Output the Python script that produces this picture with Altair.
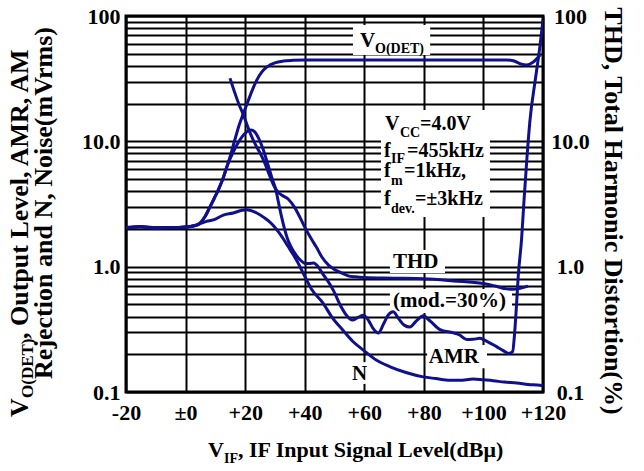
import altair as alt
import pandas as pd

FONT = "Liberation Serif"
NAVY = "#10108c"

# ---------------- data ----------------
vo_db = [-20, -15, -10, -5, 0, 3, 4.8, 6.5, 8.2, 9.6, 11, 12.5, 13.8, 15, 16.5, 18, 19.4, 21, 22.5,
         23.9, 25.5, 27, 28.4, 30, 32.8, 36, 40, 50, 60, 70, 80, 90, 100, 107.8, 110, 112.5, 114.5,
         116.5, 119]
vo_mv = [2.05, 2.08, 2.05, 2.05, 2.07, 2.12, 2.22, 2.5, 3.0, 3.5, 4.1, 5.0, 6.2, 7.6, 10.2, 13.5,
         16.7, 21, 26, 30.8, 35.5, 38.8, 40.7, 42.3, 43.7, 44.3, 44.6, 44.6, 44.6, 44.6, 44.6, 44.6,
         44.6, 44.6, 44, 41.5, 40.6, 42.5, 48.9]

amr_db = [-20, -15, -10, -5, 0, 3, 4.8, 6.5, 8.2, 9.6, 11, 12.5, 13.8, 15, 16.2, 17.5, 19, 20.5,
          22, 23.2, 24.5, 26, 27.5, 29, 30.3, 31.5, 33, 34.5, 36.5, 38.5, 40.3, 41.5, 43, 44.5, 46,
          48.5, 50, 52, 54, 56, 58, 59.7, 61.5, 63, 64.7, 66.5, 68, 69.7, 71.5, 73.5, 75.3, 77.5,
          79.8, 82, 85.4, 89.9, 92, 94.4, 96.5, 98.8, 101, 104.4, 106.5, 108.5, 109.8, 110.4, 111,
          111.7, 112.8, 113.6, 114.5, 115.6, 117.5, 119, 120]
amr_mv = [2.05, 2.08, 2.05, 2.05, 2.07, 2.12, 2.22, 2.5, 3.0, 3.5, 4.1, 5.0, 6.2, 7.3, 8.4, 9.6,
          10.9, 11.9, 12.3, 11.9, 10.6, 8.7, 6.7, 5.1, 4.1, 3.0, 2.1, 1.6, 1.3, 1.13, 1.06, 1.06,
          1.07, 1.0, 0.88, 0.72, 0.62, 0.49, 0.41, 0.375, 0.395, 0.41, 0.37, 0.32, 0.295, 0.35,
          0.41, 0.436, 0.385, 0.34, 0.33, 0.37, 0.405, 0.37, 0.315, 0.296, 0.285, 0.262, 0.263,
          0.268, 0.255, 0.23, 0.215, 0.203, 0.21, 0.28, 0.45, 0.85, 1.65, 3.3, 6.8, 14.5, 32, 58,
          93]

thd_db = [14.9, 16.5, 18, 19.4, 21, 22.5, 23.9, 25.2, 26.5, 28, 29.5, 31, 32.5, 34.5, 36.5, 38.5,
          40.1, 42, 44, 45.7, 48, 50, 52, 54.6, 57, 60, 70, 80, 90, 100, 104, 107.8, 110, 112, 115]
thd_pct = [31.9, 24.5, 19.5, 16.3, 12.8, 10.5, 9.0, 7.9, 6.8, 5.5, 4.5, 3.95, 3.7, 3.45, 3.0, 2.45,
           2.05, 1.7, 1.42, 1.2, 1.03, 0.95, 0.9, 0.845, 0.83, 0.82, 0.81, 0.80, 0.77, 0.735, 0.70,
           0.665, 0.66, 0.67, 0.70]

n_db = [-20, -15, -10, -5, 0, 3.7, 7, 9.3, 12.7, 16, 19, 20.5, 22, 23.9, 26.5, 28.9, 31.5, 34.5,
        37.5, 40.1, 42.3, 46.2, 49, 52.9, 56, 59.7, 64, 68.7, 74, 79.8, 84, 88.8, 92, 96.6, 100,
        103.3, 107, 111.2, 115, 119, 120]
n_mv = [2.03, 2.08, 2.03, 2.04, 2.07, 2.15, 2.3, 2.36, 2.58, 2.68, 2.82, 2.85, 2.8, 2.68, 2.45,
        2.2, 1.85, 1.44, 1.1, 0.83, 0.66, 0.51, 0.4, 0.31, 0.255, 0.216, 0.18, 0.159, 0.143, 0.132,
        0.128, 0.124, 0.124, 0.127, 0.125, 0.123, 0.12, 0.118, 0.115, 0.113, 0.112]

x_ticks = [-20, 0, 20, 40, 60, 80, 100, 120]
x_tick_labels = ["-20", "±0", "+20", "+40", "+60", "+80", "+100", "+120"]
y_major = [0.1, 1, 10, 100]
y_major_labels = ["0.1", "1.0", "10.0", "100"]
y_grid = [0.1, 0.2, 0.3, 0.4, 0.5, 0.6, 0.7, 0.8, 0.9,
          1, 2, 3, 4, 5, 6, 7, 8, 9,
          10, 20, 30, 40, 50, 60, 70, 80, 90, 100]

# white boxes behind the in-plot labels (dB, mV)
box_db1 = [56.2, 65.6, 68.6, 68.6, 81.1, 54.9]
box_db2 = [82.1, 102.2, 87.1, 109.6, 101.2, 61.2]
box_mv1 = [48.8, 2.49, 0.891, 0.427, 0.155, 0.116]
box_mv2 = [84.8, 17.8, 1.36, 0.663, 0.237, 0.173]

# curve labels
lab_text = ["V", "THD", "(mod.=30%)", "AMR", "N"]
lab_db = [58.56, 69.64, 69.64, 81.64, 55.87]
lab_mv = [56.6, 0.976, 0.4767, 0.1703, 0.1247]

# condition block
cond_text = ["V", "=4.0V", "f", "=455kHz", "f", "=1kHz,", "f", "=±3kHz"]
cond_db = [66.95, 78.70, 66.62, 74.34, 66.62, 73.33, 66.62, 77.0]
cond_mv = [12.31, 12.31, 7.50, 7.50, 5.195, 5.195, 3.105, 3.105]

# subscripts
sub_text = ["O(DET)", "CC", "IF", "m", "dev."]
sub_db = [63.6, 71.99, 68.97, 68.97, 68.97]
sub_mv = [50.7, 10.83, 6.72, 4.483, 2.681]

# axis titles
xtitle = ["V", "IF", ", IF Input Signal Level(dBμ)"]
ytitle1 = ["V", "O(DET)", ", Output Level, AMR, AM"]
ytitle2 = "Rejection and N, Noise(mVrms)"
rtitle = "THD, Total Harmonic Distortion(%)"

# ---------------- chart ----------------
PL, PT, W, H = 126, 16, 417, 376

def label_expr(vals, labels):
    e = "''"
    for v, l in reversed(list(zip(vals, labels))):
        e = f"datum.value == {v} ? '{l}' : ({e})"
    return e

xs = alt.Scale(domain=[-20, 120], nice=False, zero=False)
ys = alt.Scale(type="log", domain=[0.1, 100], nice=False)

axis_common = dict(ticks=False, domain=False, title=None, labelFont=FONT, labelFontSize=22,
                   labelFontWeight="bold", labelColor="black", labelOverlap=False,
                   labelFlush=False, gridColor="black", gridOpacity=1, gridWidth=2)

x_axis = alt.Axis(values=x_ticks, labelExpr=label_expr(x_ticks, x_tick_labels),
                  grid=True, labelPadding=10, **axis_common)

rows = []
for name, xv, yv in [("VO", vo_db, vo_mv), ("AMR", amr_db, amr_mv),
                     ("THD", thd_db, thd_pct), ("N", n_db, n_mv)]:
    for i, (a, b) in enumerate(zip(xv, yv)):
        rows.append({"series": name, "i": i, "db": a, "v": b})
curves_df = pd.DataFrame(rows)

boxes = alt.Chart(pd.DataFrame({"db": box_db1, "x2": box_db2, "v": box_mv1, "y2": box_mv2})
                  ).mark_rect(color="white").encode(
    x=alt.X("db:Q", scale=xs, axis=x_axis), x2="x2:Q",
    y=alt.Y("v:Q", scale=ys, axis=alt.Axis(values=y_grid, orient="left",
                                           labelExpr=label_expr(y_major, y_major_labels),
                                           grid=True, labelPadding=6, **axis_common)),
    y2="y2:Q")

curves = alt.Chart(curves_df).mark_line(color=NAVY, strokeWidth=3, interpolate="monotone",
                                        clip=True).encode(
    x=alt.X("db:Q", scale=xs, axis=x_axis),
    y=alt.Y("v:Q", scale=ys, axis=None),
    detail="series:N",
    order="i:Q",
)

right = alt.Chart(pd.DataFrame({"v": y_major})).mark_point(opacity=0).encode(
    y=alt.Y("v:Q", scale=ys, axis=alt.Axis(values=y_major, orient="right",
                                           labelExpr=label_expr(y_major, y_major_labels),
                                           grid=False, labelAlign="center", labelPadding=27,
                                           **axis_common)),
)


def ann(texts, xv, yv, size):
    return alt.Chart(pd.DataFrame({"t": texts, "db": xv, "v": yv})).mark_text(
        font=FONT, fontWeight="bold", fontSize=size, color="black", align="left",
        baseline="alphabetic").encode(
        x=alt.X("db:Q", scale=xs, axis=x_axis), y=alt.Y("v:Q", scale=ys, axis=None),
        text="t:N")


labels = ann(lab_text, lab_db, lab_mv, 21)
cond = ann(cond_text, cond_db, cond_mv, 20)
subs = ann(sub_text, sub_db, sub_mv, 14)


def piece(text, px, py, size, angle=0, align="left"):
    return alt.Chart(pd.DataFrame({"t": [text]})).mark_text(
        font=FONT, fontWeight="bold", fontSize=size, color="black", align=align,
        baseline="alphabetic", angle=angle).encode(
        x=alt.value(px - PL), y=alt.value(py - PT), text="t:N")


titles = [
    piece(xtitle[0], 208, 457, 22),
    piece(xtitle[1], 224, 463, 14),
    piece(xtitle[2], 238, 457, 22),
    piece(ytitle1[0], 28, 417, 26, angle=270),
    piece(ytitle1[1], 33, 398, 17, angle=270),
    piece(ytitle1[2], 28, 339, 26, angle=270),
    piece(ytitle2, 52, 203, 26, angle=270, align="center"),
    piece(rtitle, 605, 211, 26, angle=90, align="center"),
]

chart = alt.layer(boxes, curves, right, labels, cond, subs, *titles).resolve_scale(
    y="independent"
).properties(
    width=W, height=H,
    padding={"left": PL, "top": PT, "right": 644 - PL - W, "bottom": 471 - PT - H},
    autosize=alt.AutoSizeParams(type="none"),
    background="white",
).configure_view(stroke="black", strokeWidth=3)

chart.save("out.html", embed_options={"renderer": "svg", "actions": False})
